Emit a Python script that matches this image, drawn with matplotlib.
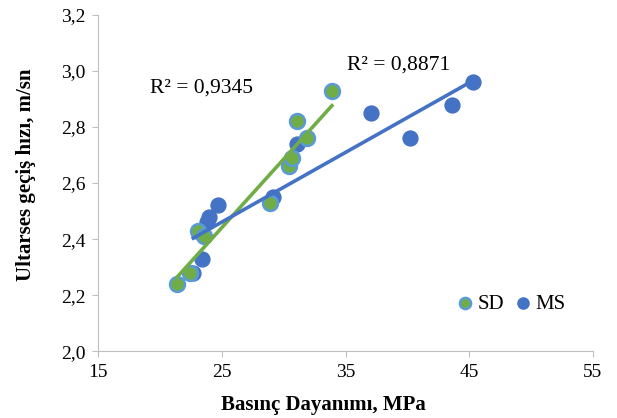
import numpy as np
import matplotlib
matplotlib.use("Agg")
import matplotlib.pyplot as plt

# SD serisi (yeşil)
sd_x = [21.4, 22.4, 23.1, 23.6, 28.9, 30.4, 30.7, 31.9, 31.1, 33.9]
sd_y = [2.24, 2.28, 2.43, 2.41, 2.53, 2.66, 2.69, 2.76, 2.82, 2.93]
# MS serisi (mavi)
ms_x = [22.7, 23.4, 23.8, 24.0, 24.7, 29.1, 31.1, 37.1, 40.2, 43.6, 45.3]
ms_y = [2.28, 2.33, 2.46, 2.48, 2.52, 2.55, 2.74, 2.85, 2.76, 2.88, 2.96]

r2_sd = "R² = 0,9345"
r2_ms = "R² = 0,8871"

green = "#70AD47"
blue = "#4472C4"
edge = "#5B9BD5"

plt.rcParams["font.family"] = ["Liberation Serif", "DejaVu Serif"]

fig = plt.figure(figsize=(6.17, 4.18), dpi=100)
ax = fig.add_axes([0.159, 0.160, 0.802, 0.804])

ax.scatter(ms_x, ms_y, s=115, color=blue, edgecolors=blue, linewidths=1.0, zorder=3, label="MS")
ax.scatter(sd_x, sd_y, s=115, color=green, edgecolors=edge, linewidths=1.8, zorder=3, label="SD")

# doğrusal eğilim çizgileri
for xs, ys, c in ((sd_x, sd_y, green), (ms_x, ms_y, blue)):
    k, b = np.polyfit(xs, ys, 1)
    xx = np.array([min(xs), max(xs)])
    ax.plot(xx, k * xx + b, color=c, lw=2.6, zorder=4)

ax.text(19.2, 2.94, r2_sd, fontsize=15.5, va="center")
ax.text(35.1, 3.02, r2_ms, fontsize=15.5, va="center")

ax.set_xlim(15, 55)
ax.set_ylim(2.0, 3.2)
ax.set_xticks([15, 25, 35, 45, 55])
ax.set_yticks(np.arange(2.0, 3.21, 0.2))
ax.set_yticklabels([f"{v:.1f}".replace(".", ",") for v in np.arange(2.0, 3.21, 0.2)])
ax.tick_params(labelsize=14, colors="#BFBFBF", labelcolor="black", length=4, pad=5)
for s in ("top", "right"):
    ax.spines[s].set_visible(False)
for s in ("left", "bottom"):
    ax.spines[s].set_color("#BFBFBF")

ax.set_xlabel("Basınç Dayanımı, MPa", fontsize=15, fontweight="bold", va="center")
ax.set_ylabel("Ultarses geçiş hızı, m/sn", fontsize=15, fontweight="bold", va="center")
ax.xaxis.set_label_coords(0.455, -0.161)
ax.yaxis.set_label_coords(-0.146, 0.525)

h, l = ax.get_legend_handles_labels()
ax.legend(h[::-1], l[::-1], loc="center", bbox_to_anchor=(0.83, 0.14), ncol=2, frameon=False,
          fontsize=15, handletextpad=0.0, columnspacing=0.3, markerscale=0.75,
          handlelength=1.2, borderpad=0)

fig.savefig("out.png", dpi=100)
